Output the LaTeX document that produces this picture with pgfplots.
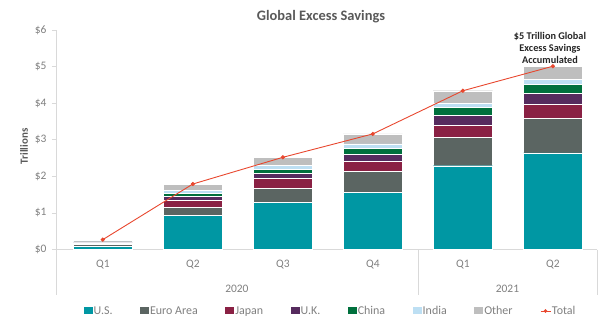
\documentclass[border=0pt]{standalone}
\usepackage{pgfplots}
\pgfplotsset{compat=1.18}
\usepackage{pgfplotstable}
\usepackage{fontspec}
\setmainfont{Carlito}
\definecolor{cUS}{HTML}{0097A3}
\definecolor{cEU}{HTML}{5B6562}
\definecolor{cJP}{HTML}{8A2144}
\definecolor{cUK}{HTML}{562B5E}
\definecolor{cCN}{HTML}{00703D}
\definecolor{cIN}{HTML}{BDDFF3}
\definecolor{cOT}{HTML}{BEBEBE}
\definecolor{cTot}{HTML}{E8472E}
\definecolor{txtgray}{HTML}{7F7F7F}
\definecolor{ttlgray}{HTML}{595959}
\definecolor{lngray}{HTML}{D9D9D9}

\pgfplotstableread{
x us euro japan uk china india other total
0 0.09 0.06 0.02 0.01 0.02 0.01 0.04 0.27
1 0.94 0.22 0.18 0.11 0.09 0.08 0.16 1.79
2 1.29 0.38 0.27 0.14 0.12 0.10 0.22 2.52
3 1.56 0.57 0.28 0.19 0.17 0.12 0.27 3.16
4 2.29 0.78 0.33 0.26 0.22 0.11 0.35 4.34
5 2.64 0.94 0.38 0.31 0.24 0.14 0.36 5.01
}\data

\pgfplotsset{
  barleg/.style={legend image code/.code={\fill[##1,draw=none] (0bp,-3.5bp) rectangle (9bp,3.5bp);}},
  totleg/.style={legend image code/.code={\draw[cTot, line width=0.9pt] (0bp,0bp) -- (10bp,0bp); \fill[cTot] (5bp,0bp) circle (1.6bp);}},
}

\begin{document}
\begin{tikzpicture}
\begin{axis}[
  name=main,
  scale only axis, width=541bp, height=219.5bp,
  xmin=-0.52, xmax=5.49, ymin=0, ymax=6,
  ybar stacked, bar width=0.66,
  clip=false,
  axis lines*=left,
  axis line style={draw=lngray, line width=0.7pt},
  xtick={0,1,2,3,4,5},
  xticklabels={Q1,Q2,Q3,Q4,Q1,Q2},
  x tick style={draw=none},
  xticklabel style={font=\fontsize{11.5}{13}\selectfont, text=txtgray, yshift=-3bp},
  ytick={0,1,2,3,4,5,6},
  yticklabels={\$0,\$1,\$2,\$3,\$4,\$5,\$6},
  y tick style={draw=lngray, line width=0.7pt},
  tick align=outside, major tick length=4bp,
  yticklabel style={font=\fontsize{11.5}{13}\selectfont, text=txtgray, xshift=-2bp},
  ylabel={Trillions},
  every axis y label/.style={at={(axis description cs:0,0.47)}, xshift=-32bp, rotate=90, anchor=center},
  ylabel style={font=\bfseries\fontsize{11}{12}\selectfont, text=ttlgray},
  legend columns=8,
  legend style={at={(0.506,-0.28)}, anchor=center, draw=none, fill=none,
    font=\fontsize{12}{13}\selectfont, text=txtgray,
    nodes={inner sep=0.5bp},
    /tikz/every odd column/.append style={column sep=0.5bp},
    /tikz/every even column/.append style={column sep=27bp}},
]
\addplot[fill=cUS, draw=white, line width=0.4pt, barleg] table[x=x,y=us]{\data};
\addlegendentry{U.S.}
\addplot[fill=cEU, draw=white, line width=0.4pt, barleg] table[x=x,y=euro]{\data};
\addlegendentry{Euro Area}
\addplot[fill=cJP, draw=white, line width=0.4pt, barleg] table[x=x,y=japan]{\data};
\addlegendentry{Japan}
\addplot[fill=cUK, draw=white, line width=0.4pt, barleg] table[x=x,y=uk]{\data};
\addlegendentry{U.K.}
\addplot[fill=cCN, draw=white, line width=0.4pt, barleg] table[x=x,y=china]{\data};
\addlegendentry{China}
\addplot[fill=cIN, draw=white, line width=0.4pt, barleg] table[x=x,y=india]{\data};
\addlegendentry{India}
\addplot[fill=cOT, draw=white, line width=0.4pt, barleg] table[x=x,y=other]{\data};
\addlegendentry{Other}
\addlegendimage{totleg}
\addlegendentry{Total}
\draw[lngray, line width=0.7pt] (axis cs:-0.52,0) -- ([yshift=-45.5bp]axis cs:-0.52,0);
\draw[lngray, line width=0.7pt] (axis cs:3.5,0) -- ([yshift=-45.5bp]axis cs:3.5,0);
\draw[lngray, line width=0.7pt] (axis cs:5.49,0) -- ([yshift=-45.5bp]axis cs:5.49,0);
\node[font=\fontsize{11.5}{13}\selectfont, text=txtgray] at ([yshift=-39.5bp]axis cs:1.49,0) {2020};
\node[font=\fontsize{11.5}{13}\selectfont, text=txtgray] at ([yshift=-39.5bp]axis cs:4.495,0) {2021};
\end{axis}
\begin{axis}[
  at={(main.south west)}, anchor=south west,
  scale only axis, width=541bp, height=219.5bp,
  xmin=-0.52, xmax=5.49, ymin=0, ymax=6,
  axis lines=none, clip=false,
]
\addplot[cTot, line width=0.9pt, mark=*, mark size=1.6bp, sharp plot] table[x=x,y=total]{\data};
\end{axis}
\node[font=\bfseries\fontsize{14.5}{16}\selectfont, text=ttlgray] at ([shift={(265bp,232.5bp)}]main.south west) {Global Excess Savings};
\node[font=\bfseries\fontsize{10.3}{12}\selectfont, text=black!85, align=center] at ([shift={(494bp,201.5bp)}]main.south west) {\$5 Trillion Global\\Excess Savings\\Accumulated};
\pgfresetboundingbox
\path[use as bounding box] ([shift={(-56bp,-76.5bp)}]main.south west) rectangle ([shift={(554bp,249.5bp)}]main.south west);
\end{tikzpicture}
\end{document}
